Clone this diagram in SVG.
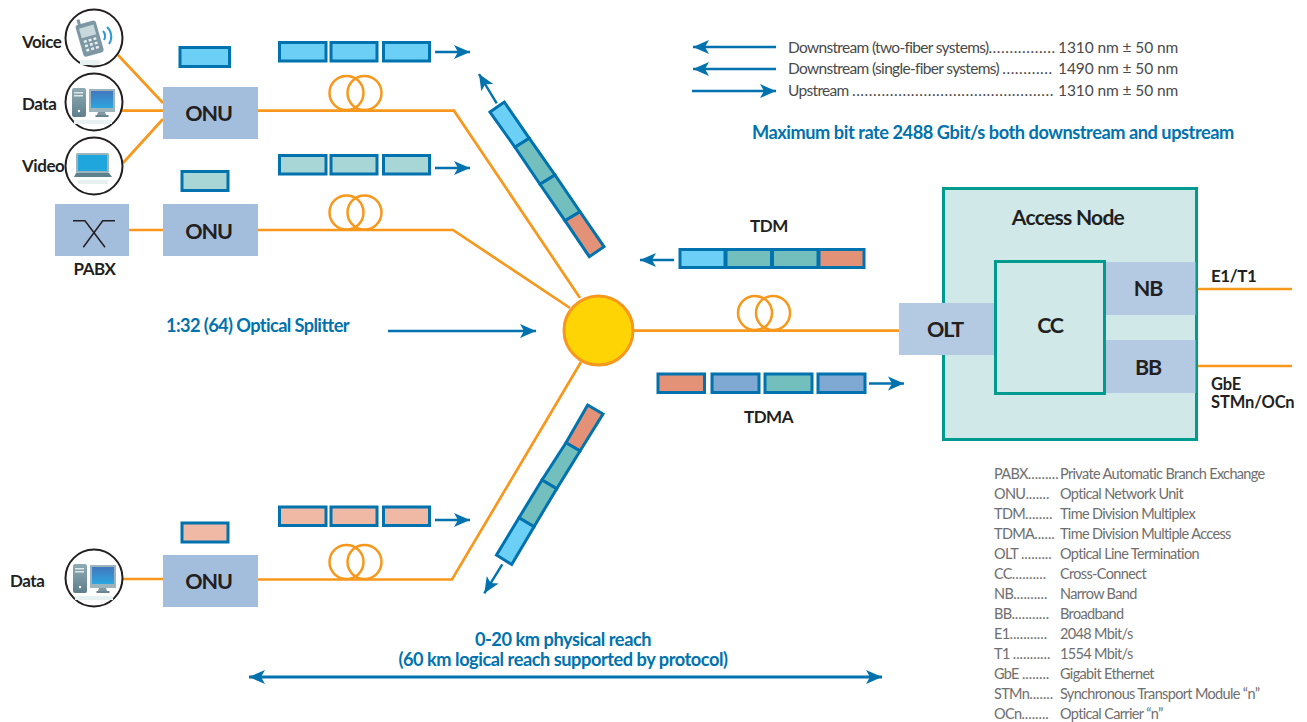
<svg xmlns="http://www.w3.org/2000/svg" xmlns:xlink="http://www.w3.org/1999/xlink" width="1307" height="722" viewBox="0 0 1307 722">
<style>
text{font-family:"Lato","Liberation Sans",sans-serif}
.lb{font-weight:700;fill:#231F20;font-size:17px;letter-spacing:-.45px}
.nd{font-weight:700;fill:#231F20;font-size:21.5px;letter-spacing:-1.2px;text-anchor:middle}
.bl{font-weight:700;fill:#0072AE;font-size:18.2px;letter-spacing:-.45px}
.lg{fill:#4a4a4a;font-size:15.5px;letter-spacing:-.68px}
.lg .d{letter-spacing:.55px}
.lg .n{letter-spacing:-.1px}
.kg{fill:#6e6e6e;font-size:14.5px;letter-spacing:-.66px}
.kg .d{letter-spacing:0}
.f{fill:none;stroke:#F7981D;stroke-width:2.7}
.c{fill:none;stroke:#F7981D;stroke-width:2.5}
.a{fill:none;stroke:#0072AE;stroke-width:2.4;marker-end:url(#ah)}
.p{stroke:#0072AE;stroke-width:3}
.b1{fill:#6CCFF6}.b2{fill:#A8D5D5}.b3{fill:#F0B9A5}.b4{fill:#72BFBE}.b5{fill:#E49277}.b6{fill:#7FA8D2}
.box{fill:#A3BDDC}.box2{fill:#B4C9E2}
.ci{fill:#fff;stroke:#231F20;stroke-width:2}
</style>
<defs>
<marker id="ah" markerUnits="userSpaceOnUse" markerWidth="20" markerHeight="18" refX="16" refY="8" orient="auto-start-reverse" viewBox="0 0 20 16"><path d="M0,1 L16,8 L0,15 L4,8Z" fill="#0072AE"/></marker>
<linearGradient id="sc" x1="0" y1="0" x2="0" y2="1"><stop offset="0" stop-color="#4377BE"/><stop offset="1" stop-color="#2CA6DF"/></linearGradient>
<linearGradient id="tw" x1="0" y1="0" x2="0" y2="1"><stop offset="0" stop-color="#8FABB4"/><stop offset="1" stop-color="#5E7F8C"/></linearGradient>
<g id="pc">
<rect x="-22" y="-14" width="14" height="29" rx="2" fill="url(#tw)"/>
<rect x="-20" y="-10" width="9" height="1.500" fill="#DDE8EA"/><rect x="-20" y="-7" width="9" height="1.500" fill="#DDE8EA"/>
<circle cx="-15" cy="9" r="1.200" fill="#fff"/>
<rect x="-5" y="-13" width="26" height="23" fill="#9DB4BC"/>
<rect x="-3" y="-11" width="22" height="17" fill="url(#sc)"/>
<path d="M4,10h7l1,3h-9z" fill="#7F98A2"/><rect x="1.500" y="13" width="13" height="2" fill="#6A8490"/>
<rect x="-20" y="18" width="38" height="4" fill="#E8F1F1"/>
</g>
<g id="coil"><circle cx="-9" cy="0" r="17"/><circle cx="9" cy="0" r="17"/></g>
</defs>

<g id="connectors">
<path class="f" d="M118,55L163,103M122,110.700H163M123,163L163,119M129,230H163M123,579H163"/>
<path class="f" d="M258,110.700H454L580,298M258,230H453L570,308M258,579.500H452L581,362M634,330.700H899M1198,289H1292M1198,366H1292"/>
<use href="#coil" class="c" x="355.500" y="93"/>
<use href="#coil" class="c" x="355.500" y="212.500"/>
<use href="#coil" class="c" x="355.500" y="562"/>
<use href="#coil" class="c" x="764" y="313"/>
<path class="a" d="M435,52H470"/>
<path class="a" d="M435,168H470"/>
<path class="a" d="M435,520H470"/>
<path class="a" d="M496.700,103.300L479,74"/>
<path class="a" d="M502.300,564.300L484.300,593.300"/>
<path class="a" d="M674,260H640"/>
<path class="a" d="M869,383.500H904"/>
<path class="a" d="M388,331H536"/>
<path class="a" d="M776,47H693"/>
<path class="a" d="M776,69H693"/>
<path class="a" d="M692,91H776"/>
<path class="a" style="stroke-width:3;marker-start:url(#ah)" d="M249,677H882"/>
</g>

<g id="voice">
<circle class="ci" cx="94" cy="38" r="28.500"/>
<rect x="80" y="60" width="20" height="5" fill="#E8F1F1"/>
<g transform="rotate(-16 90 38)">
<rect x="79" y="22" width="21" height="33" rx="3" fill="#7D98A4"/>
<rect x="82" y="17" width="3" height="6" fill="#7D98A4"/>
<rect x="82" y="26" width="15" height="10" fill="#C9D8DC"/>
<path d="M83,40h13M83,44.500h13M83,49h13" stroke="#E6EEF0" stroke-width="2.500" stroke-dasharray="3 2" fill="none"/>
</g>
<path d="M103,31a8,8 0 0 1 1,9M107,27a13,13 0 0 1 2,17" fill="none" stroke="#2C9AD8" stroke-width="2"/>
<text class="lb" x="22" y="48">Voice</text>
</g>
<g id="data1">
<circle class="ci" cx="94" cy="102" r="28.500"/>
<use href="#pc" x="94" y="102"/>
<text class="lb" x="22" y="110">Data</text>
</g>
<g id="video">
<circle class="ci" cx="94" cy="166" r="28.500"/>
<rect x="76" y="153" width="33" height="20" rx="1.500" fill="#9DB4BC"/>
<rect x="78" y="155" width="29" height="16" fill="#1FA6DC"/>
<path d="M76,173h33l3,4h-38z" fill="#5E7F8C"/>
<rect x="78" y="180" width="30" height="4" fill="#E8F1F1"/>
<text class="lb" x="22" y="172">Video</text>
</g>
<g id="pabx">
<rect class="box" x="55" y="204" width="74" height="52"/>
<path d="M73,220.700H85L105,247.300M115,220.700H102.700L83.300,247.300" fill="none" stroke="#231F20" stroke-width="1.500"/>
<text class="lb" x="94.500" y="275" text-anchor="middle">PABX</text>
</g>
<g id="data2">
<circle class="ci" cx="94" cy="578" r="28.500"/>
<use href="#pc" x="95" y="578"/>
<text class="lb" x="10" y="587">Data</text>
</g>
<g id="onu1"><rect class="box" x="163" y="87" width="95" height="52"/><text class="nd" x="208.500" y="121">ONU</text></g>
<g id="onu2"><rect class="box" x="163" y="204" width="95" height="52"/><text class="nd" x="208.500" y="238.500">ONU</text></g>
<g id="onu3"><rect class="box" x="163" y="555" width="95" height="52"/><text class="nd" x="208.500" y="589">ONU</text></g>

<g id="packets">
<rect class="p b1" x="180" y="47.500" width="49.500" height="19"/>
<rect class="p b2" x="182" y="171.500" width="46" height="19"/>
<rect class="p b3" x="182" y="523" width="46" height="19"/>
<rect class="p b1" x="279.500" y="42.500" width="46.500" height="18.500"/><rect class="p b1" x="331" y="42.500" width="46" height="18.500"/><rect class="p b1" x="383.500" y="42.500" width="46" height="18.500"/>
<rect class="p b2" x="279.500" y="155.500" width="46.500" height="18.500"/><rect class="p b2" x="331" y="155.500" width="46" height="18.500"/><rect class="p b2" x="383.500" y="155.500" width="46" height="18.500"/>
<rect class="p b3" x="279.500" y="507" width="46.500" height="18.500"/><rect class="p b3" x="331" y="507" width="46" height="18.500"/><rect class="p b3" x="383.500" y="507" width="46" height="18.500"/>
<polygon class="p b1" points="490,112 504.300,102 529.300,138.300 515,147.300"/>
<polygon class="p b4" points="515,147.300 529.300,138.300 555,175 540,184.300"/>
<polygon class="p b4" points="540,184.300 555,175 580,211.700 565,220.700"/>
<polygon class="p b5" points="565,220.700 580,211.700 604,246.700 589.300,256.700"/>
<polygon class="p b5" points="587.700,405 603,414 580,451 566,442.700"/>
<polygon class="p b4" points="566,442.700 580,451 556.700,488.700 542,480"/>
<polygon class="p b4" points="542,480 556.700,488.700 534,526.700 519,517.700"/>
<polygon class="p b1" points="519,517.700 534,526.700 511.700,564.500 496.500,555"/>
<rect class="p b1" x="680" y="249.500" width="45" height="18"/><rect class="p b4" x="726" y="249.500" width="45.500" height="18"/><rect class="p b4" x="772.500" y="249.500" width="45.500" height="18"/><rect class="p b5" x="819" y="249.500" width="45" height="18"/>
<rect class="p b5" x="658" y="374" width="46.500" height="18.500"/><rect class="p b6" x="712" y="374" width="47" height="18.500"/><rect class="p b4" x="765" y="374" width="47" height="18.500"/><rect class="p b6" x="818" y="374" width="47" height="18.500"/>
</g>

<g id="splitter"><circle cx="598.500" cy="330.500" r="34.500" fill="#FFD404" stroke="#F7981D" stroke-width="3"/></g>

<g id="access-node">
<rect x="943.500" y="188.500" width="253" height="251" fill="#D0E8E8" stroke="#009B8F" stroke-width="3"/>
<text x="1068" y="225" class="nd" style="font-size:21px;letter-spacing:-.7px">Access Node</text>
</g>
<g id="olt"><rect class="box2" x="899" y="303" width="97" height="52"/><text class="nd" x="945" y="337">OLT</text></g>
<g id="cc"><rect x="995.500" y="261.500" width="109" height="132" fill="#D0E8E8" stroke="#009B8F" stroke-width="3"/><text class="nd" x="1050" y="333">CC</text></g>
<g id="nb"><rect class="box2" x="1106" y="262" width="89.500" height="53"/><text class="nd" x="1148" y="296">NB</text></g>
<g id="bb"><rect class="box2" x="1106" y="340" width="89.500" height="53"/><text class="nd" x="1148" y="375">BB</text></g>

<g id="labels">
<text class="lb" x="1211" y="282">E1/T1</text>
<text class="lb" x="1211" y="390" style="font-size:16.5px;letter-spacing:-.15px">GbE</text>
<text class="lb" x="1211" y="408" style="font-size:16.5px;letter-spacing:-.15px">STMn/OCn</text>
<text class="lb" x="769" y="232" text-anchor="middle">TDM</text>
<text class="lb" x="768.500" y="423" text-anchor="middle">TDMA</text>
<text class="bl" x="166" y="332" style="letter-spacing:-.6px">1:32 (64) Optical Splitter</text>
<text class="bl" x="563" y="645.500" text-anchor="middle">0-20 km physical reach</text>
<text class="bl" x="563" y="665.500" text-anchor="middle">(60 km logical reach supported by protocol)</text>
<text class="bl" x="752" y="139">Maximum bit rate 2488 Gbit/s both downstream and upstream</text>
<text class="lg" x="788" y="53">Downstream (two-fiber systems)<tspan class="d">................</tspan> <tspan class="n" x="1058">1310 nm ± 50 nm</tspan></text>
<text class="lg" x="788" y="74">Downstream (single-fiber systems) <tspan class="d">............</tspan> <tspan class="n" x="1058">1490 nm ± 50 nm</tspan></text>
<text class="lg" x="788" y="96">Upstream <tspan class="d">................................................</tspan> <tspan class="n" x="1058">1310 nm ± 50 nm</tspan></text>
</g>
<g id="glossary">
<text class="kg" x="994" y="479">PABX<tspan class="d">.........</tspan> <tspan x="1060">Private Automatic Branch Exchange</tspan></text>
<text class="kg" x="994" y="499">ONU<tspan class="d">.......</tspan> <tspan x="1060">Optical Network Unit</tspan></text>
<text class="kg" x="994" y="519">TDM<tspan class="d">........</tspan> <tspan x="1060">Time Division Multiplex</tspan></text>
<text class="kg" x="994" y="539">TDMA<tspan class="d">......</tspan> <tspan x="1060">Time Division Multiple Access</tspan></text>
<text class="kg" x="994" y="559">OLT <tspan class="d">.........</tspan> <tspan x="1060">Optical Line Termination</tspan></text>
<text class="kg" x="994" y="579">CC<tspan class="d">..........</tspan> <tspan x="1060">Cross-Connect</tspan></text>
<text class="kg" x="994" y="599">NB<tspan class="d">..........</tspan> <tspan x="1060">Narrow Band</tspan></text>
<text class="kg" x="994" y="619">BB<tspan class="d">...........</tspan> <tspan x="1060">Broadband</tspan></text>
<text class="kg" x="994" y="639">E1<tspan class="d">...........</tspan> <tspan x="1060">2048 Mbit/s</tspan></text>
<text class="kg" x="994" y="659">T1 <tspan class="d">...........</tspan> <tspan x="1060">1554 Mbit/s</tspan></text>
<text class="kg" x="994" y="679">GbE <tspan class="d">........</tspan> <tspan x="1060">Gigabit Ethernet</tspan></text>
<text class="kg" x="994" y="699">STMn<tspan class="d">.......</tspan> <tspan x="1060">Synchronous Transport Module “n”</tspan></text>
<text class="kg" x="994" y="719">OCn<tspan class="d">........</tspan> <tspan x="1060">Optical Carrier “n”</tspan></text>
</g>
</svg>
